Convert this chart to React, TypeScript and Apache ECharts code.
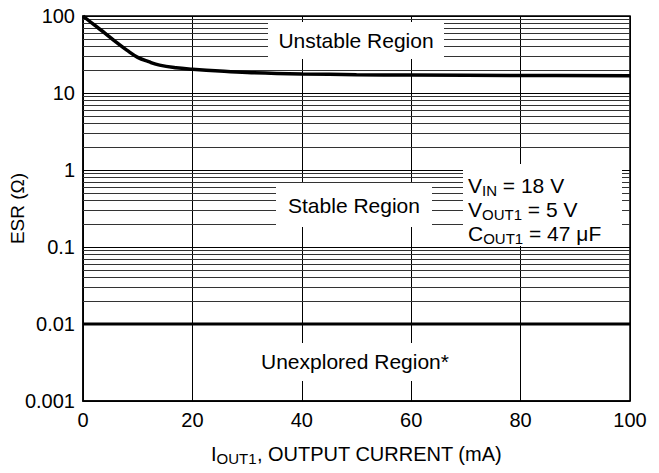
import React, { useEffect, useRef } from "react";
import * as echarts from "echarts";

// ---- data ----
const currentMA = [0, 2, 4, 6, 8, 10, 12, 14, 17, 20, 25, 30, 40, 50, 60, 80, 100];
const esrOhm = [100, 77, 60, 46, 36, 29, 25.5, 23, 21.3, 20.4, 19.3, 18.5, 17.7, 17.3, 17.1, 16.9, 16.8];
const lowerBoundX = [0, 100];
const lowerBoundY = [0.01, 0.01];
const xTicks = [0, 20, 40, 60, 80, 100];
const yTickValues = [0.001, 0.01, 0.1, 1, 10, 100];
const yTickLabels = ["0.001", "0.01", "0.1", "1", "10", "100"];
const minorFactors = [2, 3, 4, 5, 6, 7, 8, 9];
const decades = [0.001, 0.01, 0.1, 1, 10];

const FONT = "'Liberation Sans', Arial, Helvetica, sans-serif";
const FS = 20;
const BFS = 21;

export default function App() {
  const ref = useRef<HTMLDivElement>(null);

  useEffect(() => {
    if (!ref.current) return;
    const chart = echarts.init(ref.current, null, { renderer: "svg" });

    const minorValues: number[] = [];
    decades.forEach((d) => minorFactors.forEach((f) => minorValues.push(+(d * f).toPrecision(3))));

    const sub = { fontSize: 15, fontFamily: FONT, fill: "#000", color: "#000", padding: [10, 0, 0, 0], lineHeight: 24 };
    const base = { fontSize: BFS, fontFamily: FONT, fill: "#000", color: "#000", lineHeight: 24 };

    const txt = (text: string, x: number, y: number, align = "center", rich = false) => ({
      type: "text",
      z: 6,
      x,
      y,
      style: {
        text,
        font: `${BFS}px ${FONT}`,
        fontSize: BFS,
        fontFamily: FONT,
        fill: "#000",
        textFill: "#000",
        align,
        textAlign: align,
        verticalAlign: "middle",
        textVerticalAlign: "middle",
        ...(rich ? { rich: { sub, b: base } } : {}),
      },
    });
    const box = (x: number, y: number, w: number, h: number) => ({
      type: "rect",
      z: 5,
      shape: { x, y, width: w, height: h },
      style: { fill: "#fff", stroke: null },
    });

    chart.setOption({
      animation: false,
      backgroundColor: "#fff",
      grid: {
        left: 83,
        right: 29,
        top: 16,
        bottom: 72,
        containLabel: false,
        outerBoundsMode: "none",
        show: true,
        borderColor: "#000",
        borderWidth: 1.5,
        backgroundColor: "transparent",
      },
      xAxis: {
        type: "value",
        min: xTicks[0],
        max: xTicks[xTicks.length - 1],
        interval: 20,
        axisLine: { show: true, lineStyle: { color: "#000", width: 1.5 } },
        axisTick: { show: false },
        axisLabel: { color: "#000", fontSize: FS, fontFamily: FONT, margin: 9 },
        splitLine: { show: true, lineStyle: { color: "#000", width: 1 } },
        name: "I{sub|OUT1}, OUTPUT CURRENT (mA)",
        nameLocation: "middle",
        nameGap: 40,
        nameMoveOverlap: false,
        nameTextStyle: {
          color: "#000",
          fontSize: FS,
          fontFamily: FONT,
          rich: {
            sub: { fontSize: 15, fontFamily: FONT, color: "#000", padding: [10, 0, 0, 0] },
          },
        },
      },
      yAxis: {
        type: "log",
        logBase: 10,
        min: yTickValues[0],
        max: yTickValues[yTickValues.length - 1],
        splitNumber: 5,
        axisLine: { show: true, lineStyle: { color: "#000", width: 1.5 } },
        axisTick: { show: false },
        axisLabel: {
          color: "#000",
          fontSize: FS,
          fontFamily: FONT,
          margin: 8,
          formatter: (v: number) => {
            const i = yTickValues.findIndex((t) => Math.abs(Math.log10(t) - Math.log10(v)) < 1e-6);
            return i >= 0 ? yTickLabels[i] : "";
          },
        },
        splitLine: { show: true, lineStyle: { color: "#000", width: 1 } },
        name: "ESR (Ω)",
        nameLocation: "middle",
        nameGap: 56,
        nameMoveOverlap: false,
        nameTextStyle: { color: "#000", fontSize: FS - 1, fontFamily: FONT },
      },
      graphic: {
        elements: [
          box(268, 22, 176, 37),
          txt("Unstable Region", 356, 40),
          box(276, 183, 156, 44),
          txt("Stable Region", 354, 205),
          box(463, 164, 159, 82),
          txt("{b|V}{sub|IN}{b| = 18 V}", 468, 185, "left", true),
          txt("{b|V}{sub|OUT1}{b| = 5 V}", 468, 209, "left", true),
          txt("{b|C}{sub|OUT1}{b| = 47 μF}", 468, 233, "left", true),
          box(248, 343, 214, 38),
          txt("Unexplored Region*", 355, 361),
        ],
      },
      series: [
        {
          type: "line",
          name: "minor grid",
          data: [],
          z: 1,
          silent: true,
          markLine: {
            z: 1,
            silent: true,
            symbol: ["none", "none"],
            label: { show: false },
            lineStyle: { color: "#333", width: 1, type: "solid" },
            emphasis: { disabled: true },
            data: minorValues.map((v) => ({ yAxis: v })),
          },
        },
        {
          type: "line",
          name: "ESR upper limit",
          data: currentMA.map((x, i) => [x, esrOhm[i]]),
          smooth: 0.4,
          showSymbol: false,
          symbol: "none",
          z: 10,
          lineStyle: { color: "#000", width: 3.5 },
        },
        {
          type: "line",
          name: "ESR lower limit",
          data: lowerBoundX.map((x, i) => [x, lowerBoundY[i]]),
          showSymbol: false,
          symbol: "none",
          z: 10,
          lineStyle: { color: "#000", width: 3 },
        },
      ],
    });

    return () => chart.dispose();
  }, []);

  return (
    <div
      ref={ref}
      style={{ position: "fixed", left: 0, top: 0, width: 659, height: 473, background: "#fff" }}
    />
  );
}
